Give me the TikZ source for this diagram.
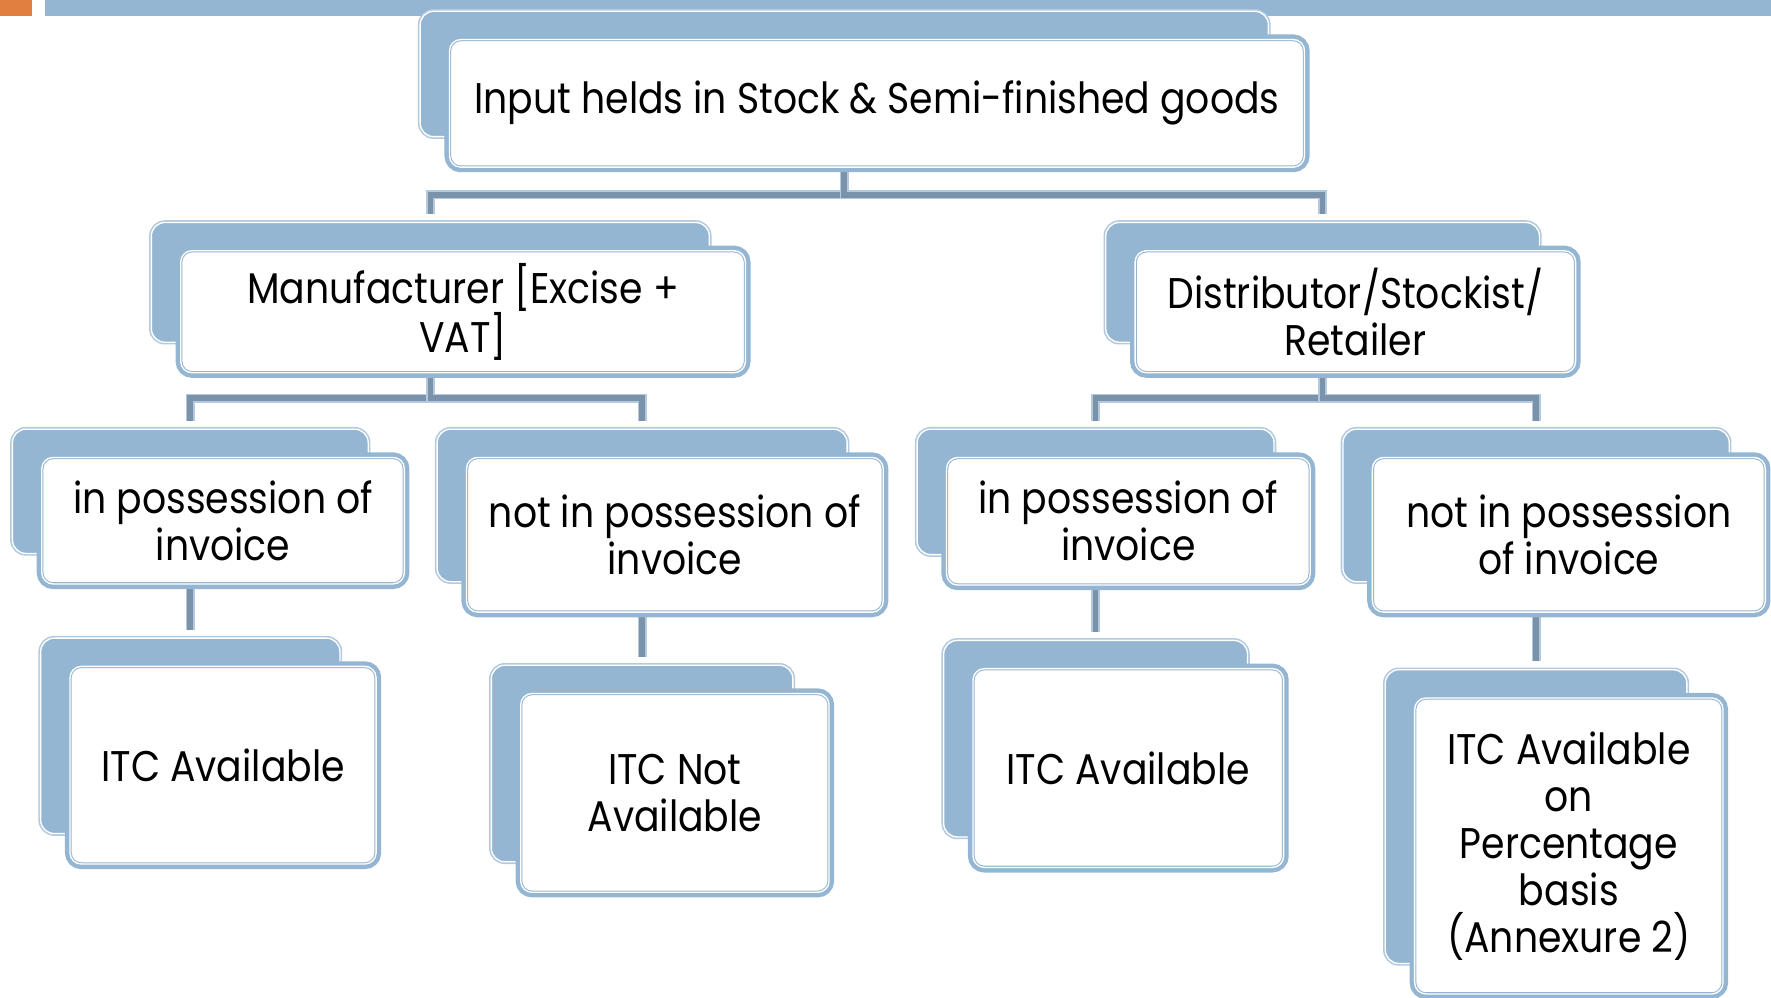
\documentclass[tikz,border=0pt]{standalone}
\usepackage{fontspec}
\setmainfont{Poppins}[FakeStretch=0.88]
\usetikzlibrary{positioning,backgrounds}
\definecolor{boxblue}{RGB}{148,182,210}
\definecolor{edgeblue}{RGB}{178,201,222}
\definecolor{linkblue}{RGB}{122,146,170}
\definecolor{barorange}{RGB}{224,127,64}

\begin{document}
\begin{tikzpicture}[
  x=1pt, y=-1pt,
  font=\fontsize{38}{41.6}\selectfont,
  back/.style={rounded corners=12pt, fill=boxblue, draw=white, line width=1.2pt,
    preaction={draw=edgeblue, line width=4pt}, inner sep=0pt},
  front/.style={rounded corners=10pt, fill=white, draw=boxblue, line width=0.9pt,
    double=white, double distance=1.2pt, preaction={draw=boxblue, line width=9pt},
    align=center, inner sep=0pt},
  link/.style={draw=linkblue, line width=5pt, preaction={draw=edgeblue, line width=8pt},
    shorten >=7pt}
]
\useasboundingbox (0,0) rectangle (1568,883);

% title bar
\fill[barorange] (0,0) rectangle (28,14);
\fill[boxblue] (40,0) rectangle (1568,14);

% top
\node[back, minimum width=751pt, minimum height=111pt] (rootB) at (747.5,65.5) {};
\node[front, minimum width=757pt, minimum height=113pt] (root) at ([shift={(29,26)}]rootB.center)
  {Input helds in Stock \& Semi-finished goods};

% second row
\node[back, minimum width=494pt, minimum height=106pt] (manB) at (381,250) {};
\node[front, minimum width=500pt, minimum height=108pt] (man) at ([shift={(29,26)}]manB.center)
  {Manufacturer [Excise +\\VAT]};
\node[back, minimum width=384pt, minimum height=106pt] (distB) at (1171,250) {};
\node[front, minimum width=390pt, minimum height=108pt] (dist) at ([shift={(29,26)}]distB.center)
  {Distributor/Stockist/\\Retailer};

% third row
\node[back, minimum width=315pt, minimum height=110pt] (L1B) at (168.5,435) {};
\node[front, minimum width=321pt, minimum height=112pt] (L1) at ([shift={(29,26)}]L1B.center)
  {in possession of\\invoice};
\node[back, minimum width=363pt, minimum height=135pt] (L2B) at (568.5,447.5) {};
\node[front, minimum width=369pt, minimum height=137pt] (L2) at ([shift={(29,26)}]L2B.center)
  {not in possession of\\invoice};
\node[back, minimum width=316pt, minimum height=111pt] (R1B) at (970,435.5) {};
\node[front, minimum width=322pt, minimum height=113pt] (R1) at ([shift={(29,26)}]R1B.center)
  {in possession of\\invoice};
\node[back, minimum width=342pt, minimum height=135pt] (R2B) at (1360,447.5) {};
\node[front, minimum width=348pt, minimum height=137pt] (R2) at ([shift={(29,26)}]R2B.center)
  {not in possession\\of invoice};

% last row
\node[back, minimum width=265pt, minimum height=173pt] (A1B) at (168.5,651.5) {};
\node[front, minimum width=271pt, minimum height=175pt] (A1) at ([shift={(29,26)}]A1B.center)
  {ITC Available};
\node[back, minimum width=267pt, minimum height=174pt] (A2B) at (568.5,676) {};
\node[front, minimum width=273pt, minimum height=176pt] (A2) at ([shift={(29,26)}]A2B.center)
  {ITC Not\\Available};
\node[back, minimum width=269pt, minimum height=174pt] (A3B) at (970,654) {};
\node[front, minimum width=275pt, minimum height=176pt] (A3) at ([shift={(29,26)}]A3B.center)
  {ITC Available};
\node[back, minimum width=267pt, minimum height=260pt] (A4B) at (1360,723) {};
\node[front, minimum width=273pt, minimum height=262pt] (A4) at ([shift={(29,26)}]A4B.center)
  {ITC Available\\on\\Percentage\\basis\\(Annexure 2)};

% connectors
\begin{pgfonlayer}{background}
\draw[link] (rootB.south) -- ++(0,51) -| (manB.north);
\draw[link] (rootB.south) -- ++(0,51) -| (distB.north);
\draw[link] (manB.south) -- ++(0,49) -| (L1B.north);
\draw[link] (manB.south) -- ++(0,49) -| (L2B.north);
\draw[link] (distB.south) -- ++(0,49) -| (R1B.north);
\draw[link] (distB.south) -- ++(0,49) -| (R2B.north);
\draw[link] (L1B.south) -- (A1B.north);
\draw[link] (L2B.south) -- (A2B.north);
\draw[link] (R1B.south) -- (A3B.north);
\draw[link] (R2B.south) -- (R2B.south |- A4B.north);
\end{pgfonlayer}

\end{tikzpicture}
\end{document}
